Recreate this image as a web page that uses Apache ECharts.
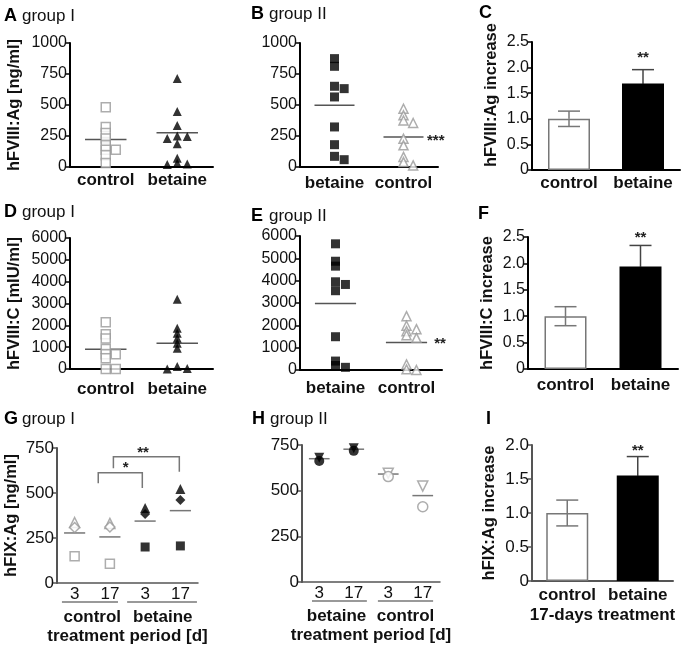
<!DOCTYPE html>
<html>
<head>
<meta charset="utf-8">
<script src="https://cdn.jsdelivr.net/npm/echarts@6/dist/echarts.min.js"></script>
<style>
  html, body { margin: 0; padding: 0; background: #fff; }
  #chart { width: 685px; height: 649px; }
</style>
</head>
<body>
<div id="chart"></div>
<script>
const FONT = '"Liberation Sans", Arial, sans-serif'

// hFVIII:Ag [ng/ml] per mouse (A: group I, B: group II)
const catsI = ['control', 'betaine']
const catsII = ['betaine', 'control']
const agControlI = [481, 323, 274, 229, 175, 140, 140, 94, 32]
const agBetaineI = [713, 448, 335, 250, 245, 229, 188, 70, 30, 25, 20]
const agMeansI = [221, 277]
const agBetaineII = [874, 812, 651, 632, 565, 323, 180, 86, 59]
const agControlII = [470, 417, 375, 355, 228, 175, 81, 40, 13]
const agMeansII = [497, 242]

// hFVIII:C [mIU/ml] per mouse (D: group I, E: group II)
const cControlI = [2140, 1590, 1400, 920, 680, 670, 490, 0, 0]
const cBetaineI = [3200, 1870, 1640, 1410, 1180, 950, 110, 20, 0]
const cMeansI = [903, 1180]
const cBetaineII = [5650, 4870, 4650, 3950, 3830, 3550, 1490, 400, 200, 120]
const cControlII = [2410, 1980, 1830, 1740, 1560, 1440, 250, 30, 0]
const cMeansII = [2978, 1236]

// fold increase, mean and error (C, F, I)
const barCats = ['control', 'betaine']
const agIncrease = [1.0, 1.69]
const agIncreaseErr = [0.15, 0.27]
const cIncrease = [1.0, 1.94]
const cIncreaseErr = [0.18, 0.40]
const fixIncrease = [1.0, 1.55]
const fixIncreaseErr = [0.19, 0.28]

// hFIX:Ag [ng/ml] at day 3 / 17 (G: group I, H: group II)
const dayLabels = ['3', '17', '3', '17']
const groupsG = ['control', 'betaine']
const fixTriangleI = [336, 331, 417, 522]
const fixDiamondI = [308, 311, 383, 461]
const fixSquareI = [148, 107, 200, 206]
const fixMeansI = [278, 256, 344, 402]
const groupsH = ['betaine', 'control']
const fixTriDownII = [680, 732, 596, 525]
const fixCircleII = [662, 718, 577, 412]
const fixMeansII = [675, 727, 591, 473]

const option = { animation: false, backgroundColor: '#fff', grid: [], xAxis: [], yAxis: [], series: [], graphic: [] }

const boldText = (size) => ({ fontFamily: FONT, fontSize: size, fontWeight: 'bold', color: '#111' })

function addGrid(box) {
    option.grid.push(Object.assign({ containLabel: false, outerBoundsMode: 'none' }, box))
    return option.grid.length - 1
}

function addX(cfg) {
    option.xAxis.push(Object.assign({ position: 'bottom', splitLine: { show: false } }, cfg))
    return option.xAxis.length - 1
}

function addY(g, max, interval, name, gap, color, tickSize, fmt, namePad) {
    option.yAxis.push({
        type: 'value', gridIndex: g, min: 0, max: max, interval: interval,
        name: name, nameLocation: 'middle', nameGap: gap, nameRotate: 90, nameMoveOverlap: false,
        nameTextStyle: Object.assign({ padding: namePad || 0 }, boldText(16.5)),
        axisLine: { show: true, onZero: false, lineStyle: { color: color, width: 2 } },
        axisTick: { show: true, length: 4, lineStyle: { color: color, width: 1.5 } },
        axisLabel: { fontFamily: FONT, fontSize: tickSize, color: '#111', margin: 3, formatter: fmt || (v => String(v)) },
        splitLine: { show: false }
    })
    return option.yAxis.length - 1
}

// place overlapping points side by side, like GraphPad does
function spread(values, center, max) {
    const thr = max * 0.03
    const step = 0.14
    const placed = []
    return values.map(v => {
        const offs = [0, step, -step, 2 * step, -2 * step]
        let off = offs.find(o => !placed.some(p => p.o === o && Math.abs(p.v - v) < thr))
        if (off === undefined) off = 0
        placed.push({ v: v, o: off })
        return [center + off, v]
    })
}

const openStyle = { color: '#fff', borderColor: '#999', borderWidth: 1.5 }
const fillStyle = { color: '#000', borderColor: '#000', borderWidth: 0 }

function pathSeries(xi, yi, paths, style, dy) {
    return {
        type: 'custom', xAxisIndex: xi, yAxisIndex: yi, clip: false, silent: true, z: 2,
        data: paths.map(p => p[0]),
        renderItem: (params, api) => {
            const pts = paths[params.dataIndex].map(pt => {
                const c = api.coord(pt)
                return [c[0], c[1] + (dy || 0)]
            })
            return { type: 'polyline', shape: { points: pts }, style: Object.assign({ fill: null }, style) }
        }
    }
}

function textSeries(xi, yi, items) {
    return {
        type: 'custom', xAxisIndex: xi, yAxisIndex: yi, clip: false, silent: true, z: 5,
        data: items.map(t => [t.x, t.y]),
        renderItem: (params, api) => {
            const t = items[params.dataIndex]
            const p = api.coord([t.x, t.y])
            return {
                type: 'text', x: p[0], y: p[1] + (t.dy || 0),
                style: {
                    text: t.text, fill: '#222', fontFamily: FONT, fontSize: 15, fontWeight: 'bold',
                    align: t.align || 'center', verticalAlign: 'middle'
                }
            }
        }
    }
}

function meanLines(means, half) {
    return means.map((m, i) => [[i - half, m], [i + half, m]])
}

function scatterPanel(box, cats, groups, means, max, interval, yName, yGap, labelMargin, sig) {
    const g = addGrid(box)
    addX({
        gridIndex: g, type: 'category', data: cats,
        axisLine: { onZero: false, lineStyle: { color: '#000', width: 2 } }, axisTick: { show: false },
        axisLabel: Object.assign({ interval: 0, margin: labelMargin }, boldText(17))
    })
    const xv = addX({ gridIndex: g, type: 'value', min: -0.5, max: cats.length - 0.5, show: false })
    const y = addY(g, max, interval, yName, yGap, '#000', 16)
    groups.forEach((grp, i) => {
        option.series.push({
            type: 'scatter', xAxisIndex: xv, yAxisIndex: y, symbol: grp.symbol, symbolSize: 9,
            itemStyle: grp.open ? openStyle : fillStyle, z: 3,
            data: spread(grp.values, i, max)
        })
    })
    option.series.push(pathSeries(xv, y, meanLines(means, 0.29), { stroke: '#555', lineWidth: 1.5 }))
    if (sig) option.series.push(textSeries(xv, y, [sig]))
}

function errSeries(xi, yi, values, errs) {
    return {
        type: 'custom', xAxisIndex: xi, yAxisIndex: yi, clip: false, silent: true, z: 4,
        data: values.map((v, i) => [i, v, errs[i]]),
        renderItem: (params, api) => {
            const i = params.dataIndex
            const v = api.value(1), e = api.value(2)
            const c = api.coord([i, v])
            const top = api.coord([i, v + e])[1]
            const bot = api.coord([i, v - e])[1]
            const w = 11
            const up = i === 0 ? '#777' : '#444'
            const down = i === 0 ? '#777' : '#000'
            const ln = (x1, y1, x2, y2, col) => ({ type: 'line', shape: { x1, y1, x2, y2 }, style: { stroke: col, lineWidth: 1.5 } })
            return {
                type: 'group', children: [
                    ln(c[0], c[1], c[0], top, up), ln(c[0] - w, top, c[0] + w, top, up),
                    ln(c[0], c[1], c[0], bot, down), ln(c[0] - w, bot, c[0] + w, bot, down)
                ]
            }
        }
    }
}

function barPanel(box, values, errs, max, interval, yName, yGap, labelMargin, sigY, axisColor, tickSize, xName, namePad) {
    const g = addGrid(box)
    const x = addX({
        gridIndex: g, type: 'category', data: barCats,
        axisLine: { onZero: false, lineStyle: { color: axisColor, width: 2 } }, axisTick: { show: false },
        axisLabel: Object.assign({ interval: 0, margin: labelMargin }, boldText(17)),
        name: xName, nameLocation: 'middle', nameGap: 26, nameMoveOverlap: false, nameTextStyle: boldText(17)
    })
    const y = addY(g, max, interval, yName, yGap, axisColor, tickSize, v => v === 0 ? '0' : v.toFixed(1), namePad)
    option.series.push({
        type: 'bar', xAxisIndex: x, yAxisIndex: y, barWidth: 42, z: 2,
        data: values.map((v, i) => ({
            value: v,
            itemStyle: i === 0 ? { color: '#fff', borderColor: '#777', borderWidth: 1.5 } : { color: '#000' }
        }))
    })
    option.series.push(errSeries(x, y, values, errs))
    option.series.push(textSeries(x, y, [{ x: 1, y: sigY, text: '**', dy: 3 }]))
}

function dayPanel(box, groupLabels, mice, means, filled, yName, yGap, labelMargin, underlines, brackets, stars) {
    const g = addGrid(box)
    addX({
        gridIndex: g, type: 'category', data: dayLabels,
        axisLine: { onZero: false, lineStyle: { color: '#555', width: 1.5 } }, axisTick: { show: false },
        axisLabel: { interval: 0, margin: labelMargin, fontFamily: FONT, fontSize: 17, color: '#111' }
    })
    addX({
        gridIndex: g, type: 'category', data: groupLabels, offset: 22,
        axisLine: { show: false, onZero: false }, axisTick: { show: false },
        axisLabel: Object.assign({ interval: 0, margin: 4 }, boldText(17)),
        name: 'treatment period [d]', nameLocation: 'middle', nameGap: 23, nameMoveOverlap: false,
        nameTextStyle: boldText(17)
    })
    const xv = addX({ gridIndex: g, type: 'value', min: -0.5, max: 3.5, show: false })
    const y = addY(g, 750, 250, yName, yGap, '#555', 17)
    mice.forEach(m => {
        option.series.push({
            type: 'scatter', xAxisIndex: xv, yAxisIndex: y, symbol: m.symbol, symbolRotate: m.rotate || 0,
            symbolSize: m.size, z: 3,
            data: m.values.map((v, i) => ({ value: [i, v], itemStyle: filled[i] ? fillStyle : openStyle }))
        })
    })
    option.series.push(pathSeries(xv, y, meanLines(means, 0.3), { stroke: '#777', lineWidth: 1.5 }))
    option.series.push(pathSeries(xv, y, underlines, { stroke: '#777', lineWidth: 1.5 }, 19))
    if (brackets) option.series.push(pathSeries(xv, y, brackets, { stroke: '#777', lineWidth: 1.5 }))
    if (stars) option.series.push(textSeries(xv, y, stars))
}

// A
scatterPanel({ left: 70, top: 43, width: 143, height: 124 }, catsI,
    [{ values: agControlI, symbol: 'rect', open: true }, { values: agBetaineI, symbol: 'triangle', open: false }],
    agMeansI, 1000, 250, 'hFVIII:Ag [ng/ml]', 47, 5)
// B
scatterPanel({ left: 300, top: 43, width: 138, height: 124 }, catsII,
    [{ values: agBetaineII, symbol: 'rect', open: false }, { values: agControlII, symbol: 'triangle', open: true }],
    agMeansII, 1000, 250, '', 40, 8, { x: 1.34, y: 242, text: '***', align: 'left', dy: 4 })
// C
barPanel({ left: 532, top: 42, width: 148, height: 128 }, agIncrease, agIncreaseErr, 2.5, 0.5,
    'hFVIII:Ag increase', 32, 5, 2.24, '#000', 16, '', [0, 0, 0, 22])
// D
scatterPanel({ left: 70, top: 238, width: 143, height: 131 }, catsI,
    [{ values: cControlI, symbol: 'rect', open: true }, { values: cBetaineI, symbol: 'triangle', open: false }],
    cMeansI, 6000, 1000, 'hFVIII:C [mIU/ml]', 47, 12)
// E
scatterPanel({ left: 300, top: 236, width: 142, height: 134 }, catsII,
    [{ values: cBetaineII, symbol: 'rect', open: false }, { values: cControlII, symbol: 'triangle', open: true }],
    cMeansII, 6000, 1000, '', 40, 10, { x: 1.39, y: 1236, text: '**', align: 'left', dy: 1 })
// F
barPanel({ left: 528, top: 237, width: 150, height: 132 }, cIncrease, cIncreaseErr, 2.5, 0.5,
    'hFVIII:C increase', 32, 8, 2.54, '#000', 16)
// G
dayPanel({ left: 57, top: 448, width: 141, height: 135 }, groupsG,
    [{ values: fixTriangleI, symbol: 'triangle', size: 10 },
     { values: fixDiamondI, symbol: 'diamond', size: 10 },
     { values: fixSquareI, symbol: 'rect', size: 9 }],
    fixMeansI, [false, false, true, true], 'hFIX:Ag [ng/ml]', 37, 3,
    [[[-0.36, 0], [1.23, 0]], [[1.49, 0], [3.47, 0]]],
    [[[0.67, 554], [0.67, 613], [1.92, 613], [1.92, 528]],
     [[1.10, 637], [1.10, 702], [2.97, 702], [2.97, 618]]],
    [{ x: 1.45, y: 656, text: '*', dy: 3 }, { x: 1.94, y: 739, text: '**', dy: 3 }])
// H
dayPanel({ left: 302, top: 445, width: 138, height: 137 }, groupsH,
    [{ values: fixTriDownII, symbol: 'triangle', rotate: 180, size: 10 },
     { values: fixCircleII, symbol: 'circle', size: 10 }],
    fixMeansII, [true, true, false, false], '', 37, 3,
    [[[-0.21, 0], [1.38, 0]], [[1.70, 0], [3.30, 0]]])
// I
barPanel({ left: 532, top: 445, width: 141, height: 136 }, fixIncrease, fixIncreaseErr, 2.0, 0.5,
    'hFIX:Ag increase', 34, 6, 1.96, '#555', 17, '17-days treatment')

// panel letters and group titles
const titles = [
    ['A', 'group I', 4, 16], ['B', 'group II', 251, 14], ['C', '', 479, 13],
    ['D', 'group I', 4, 212], ['E', 'group II', 251, 216], ['F', '', 478, 214],
    ['G', 'group I', 4, 419], ['H', 'group II', 252, 419], ['I', '', 486, 419]
]
titles.forEach(([letter, sub, x, y]) => {
    option.graphic.push({
        type: 'text', x: x, y: y,
        style: { text: letter, fontFamily: FONT, fontSize: 18, fontWeight: 'bold', fill: '#000', verticalAlign: 'middle' }
    })
    if (sub) {
        option.graphic.push({
            type: 'text', x: x + 18, y: y,
            style: { text: sub, fontFamily: FONT, fontSize: 17, fill: '#111', verticalAlign: 'middle' }
        })
    }
})

const chart = echarts.init(document.getElementById('chart'))
chart.setOption(option)
</script>
</body>
</html>
